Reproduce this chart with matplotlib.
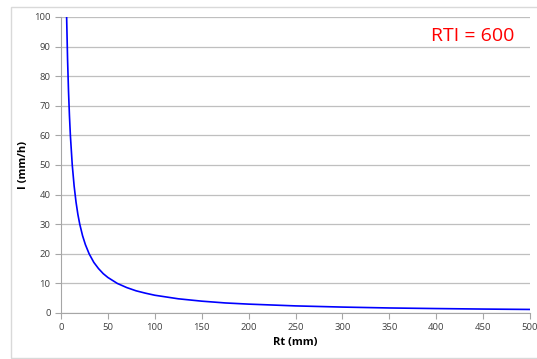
import matplotlib.pyplot as plt
from matplotlib.patches import Rectangle

# values
rt = [6, 7, 8, 9, 10, 12, 14, 16, 18, 20, 23, 26, 30, 35, 40, 45, 50, 60, 70, 80,
      90, 100, 125, 150, 175, 200, 250, 300, 350, 400, 450, 500]
intensity = [100, 85.7, 75, 66.7, 60, 50, 42.9, 37.5, 33.3, 30, 26.1, 23.1, 20, 17.1,
             15, 13.3, 12, 10, 8.6, 7.5, 6.7, 6, 4.8, 4, 3.4, 3, 2.4, 2, 1.7, 1.5, 1.33, 1.2]
xticks = [0, 50, 100, 150, 200, 250, 300, 350, 400, 450, 500]
yticks = [0, 10, 20, 30, 40, 50, 60, 70, 80, 90, 100]

plt.rcParams['font.family'] = ['Open Sans', 'DejaVu Sans']

fig = plt.figure(figsize=(5.37, 3.59), dpi=100)
fig.patches.append(Rectangle((11 / 537, 0.003), 1.0, 1 - 7 / 359 - 0.003,
                             transform=fig.transFigure, fill=False,
                             edgecolor='#d9d9d9', linewidth=1))
ax = fig.add_axes([61 / 537, 46 / 359, 469 / 537, 296 / 359])

ax.plot(rt, intensity, color='#0000ff', linewidth=1.2)
ax.set_xlim(0, 500)
ax.set_ylim(0, 100)
ax.set_xticks(xticks)
ax.set_yticks(yticks)
ax.grid(axis='y', color='#bfbfbf', linewidth=0.9)
ax.set_axisbelow(True)

for s in ['top', 'right']:
    ax.spines[s].set_visible(False)
for s in ['left', 'bottom']:
    ax.spines[s].set_color('#a6a6a6')
ax.tick_params(colors='#a6a6a6', labelcolor='#404040', labelsize=6.8, length=4)

ax.set_xlabel('Rt (mm)', fontsize=8, fontweight='bold', labelpad=3)
ax.set_ylabel('I (mm/h)', fontsize=8, fontweight='bold', labelpad=4)
ax.text(0.966, 0.965, 'RTI = 600', transform=ax.transAxes, color='#ff0000',
        fontsize=14, ha='right', va='top')

fig.savefig('out.png', dpi=100)
